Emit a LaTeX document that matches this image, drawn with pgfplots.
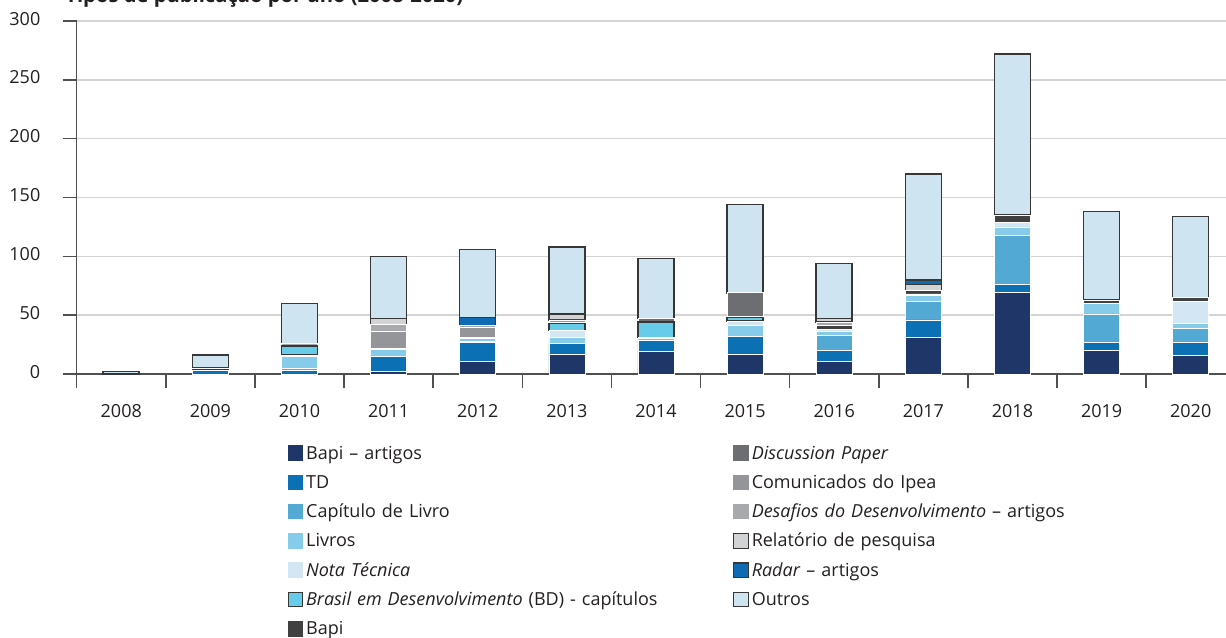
\documentclass[border=0pt]{standalone}
\usepackage{pgfplots}
\pgfplotsset{compat=1.18}
\usepackage{pgfplotstable}
\usepackage{fontspec}
\setmainfont{Open Sans}

\definecolor{cBA}{RGB}{31,54,104}
\definecolor{cTD}{RGB}{11,113,180}
\definecolor{cCAP}{RGB}{82,169,212}
\definecolor{cLIV}{RGB}{134,203,234}
\definecolor{cNOTA}{RGB}{210,231,243}
\definecolor{cBD}{RGB}{102,204,234}
\definecolor{cBAPI}{RGB}{64,64,64}
\definecolor{cDP}{RGB}{109,110,113}
\definecolor{cCOM}{RGB}{147,149,152}
\definecolor{cDES}{RGB}{167,169,172}
\definecolor{cREL}{RGB}{209,211,212}
\definecolor{cRAD}{RGB}{14,106,178}
\definecolor{cOUT}{RGB}{206,228,241}
\definecolor{cEDGE}{RGB}{55,55,55}
\definecolor{cGRID}{RGB}{212,212,212}
\definecolor{cAXIS}{RGB}{80,80,80}
\definecolor{cTXT}{RGB}{35,31,32}

% x: 0=2008 ... 12=2020
\pgfplotstableread{
x ba td cap liv nota bd bapi dp com des rel rad out
0  0  0  0  0  0  0  0  0  0  0 0 0 2
1  0  3  0  0  0  1  1  0  0  0 0 0 11
2  0  3  2  10 1  8  0  0  0  2 0 0 34
3  2  13 0  6  1  0  0  0  14 6 5 0 53
4  11 16 1  2  1  0  0  0  9  1 0 7 58
5  17 9  0  5  6  6  1  0  2  0 5 0 57
6  19 10 0  1  1  13 0  3  0  0 0 0 51
7  17 15 0  9  4  3  1  20 0  0 0 0 75
8  11 9  13 3  2  0  3  0  0  3 3 0 47
9  31 15 16 5  1  0  3  0  0  0 5 4 90
10 69 7  42 7  4  0  6  0  0  0 0 0 137
11 20 7  24 9  0  0  3  0  0  0 0 0 75
12 16 11 12 4  19 0  3  0  0  0 0 0 69
}\data

\pgfplotsset{
  sqf/.style={legend image code/.code={\path[fill=#1, draw=none] (0pt,-3.9pt) rectangle (7.8pt,3.9pt);}},
  sqd/.style={legend image code/.code={\path[fill=#1, draw=cEDGE, line width=0.6pt] (0.3pt,-3.6pt) rectangle (7.5pt,3.6pt);}},
  plain/.style={fill=#1, draw=white, line width=0.35pt},
  edged/.style={fill=#1, draw=cEDGE, line width=0.75pt},
}

\begin{document}
\begin{tikzpicture}[font=\fontsize{9}{10.5}\selectfont, text=cTXT]
\begin{axis}[
  scale only axis, width=579.3pt, height=176.5pt,
  ybar stacked, bar width=18pt,
  xmin=-0.5, xmax=12.5, ymin=0, ymax=300,
  enlargelimits=false, clip=false,
  axis x line=bottom, axis y line=left,
  axis line style={-, draw=cAXIS, line width=0.75pt},
  xtick={0,...,12},
  xticklabels={2008,2009,2010,2011,2012,2013,2014,2015,2016,2017,2018,2019,2020},
  minor xtick={-0.5,0.5,...,12.5},
  ytick={0,50,...,300},
  tick align=outside,
  major tick length=7pt, minor tick length=7pt,
  major x tick style={draw=none},
  minor x tick style={draw=cAXIS, line width=0.75pt},
  major y tick style={draw=cAXIS, line width=0.75pt},
  ymajorgrids, grid style={draw=cGRID, line width=0.75pt},
  /pgf/number format/assume math mode=true,
  xticklabel style={anchor=north, inner sep=0pt, yshift=-7.8pt},
  yticklabel style={anchor=east, inner sep=0pt, xshift=-11pt, yshift=1.2pt},
  legend columns=2, legend cell align=left,
  legend style={at={(0.182,-0.1955)}, anchor=north west, draw=none, fill=none,
    inner sep=0pt, outer sep=0pt, row sep=4.65pt,
    nodes={inner sep=0pt, text height=8pt, text depth=2pt, text width=213.5pt, align=left},
    /tikz/every odd column/.style={column sep=1.5pt},
    /tikz/every even column/.style={column sep=0pt}},
]
\addplot[plain=cBA, forget plot]   table[x=x,y=ba]{\data};
\addplot[plain=cTD, forget plot]   table[x=x,y=td]{\data};
\addplot[plain=cCAP, forget plot]  table[x=x,y=cap]{\data};
\addplot[plain=cLIV, forget plot]  table[x=x,y=liv]{\data};
\addplot[plain=cNOTA, forget plot] table[x=x,y=nota]{\data};
\addplot[edged=cBD, forget plot]   table[x=x,y=bd]{\data};
\addplot[plain=cBAPI, forget plot] table[x=x,y=bapi]{\data};
\addplot[plain=cDP, forget plot]   table[x=x,y=dp]{\data};
\addplot[plain=cCOM, forget plot]  table[x=x,y=com]{\data};
\addplot[plain=cDES, forget plot]  table[x=x,y=des]{\data};
\addplot[edged=cREL, forget plot]  table[x=x,y=rel]{\data};
\addplot[edged=cRAD, forget plot]  table[x=x,y=rad]{\data};
\addplot[edged=cOUT, forget plot]  table[x=x,y=out]{\data};

\addlegendimage{sqf=cBA}
\addlegendentry{Bapi – artigos}
\addlegendimage{sqf=cDP}
\addlegendentry{\textit{Discussion Paper}}
\addlegendimage{sqf=cTD}
\addlegendentry{TD}
\addlegendimage{sqf=cCOM}
\addlegendentry{Comunicados do Ipea}
\addlegendimage{sqf=cCAP}
\addlegendentry{Capítulo de Livro}
\addlegendimage{sqf=cDES}
\addlegendentry{\textit{Desafios do Desenvolvimento} – artigos}
\addlegendimage{sqf=cLIV}
\addlegendentry{Livros}
\addlegendimage{sqd=cREL}
\addlegendentry{Relatório de pesquisa}
\addlegendimage{sqf=cNOTA}
\addlegendentry{\textit{Nota Técnica}}
\addlegendimage{sqd=cRAD}
\addlegendentry{\textit{Radar} – artigos}
\addlegendimage{sqd=cBD}
\addlegendentry{\textit{Brasil em Desenvolvimento} (BD) - capítulos}
\addlegendimage{sqd=cOUT}
\addlegendentry{Outros}
\addlegendimage{sqf=cBAPI}
\addlegendentry{Bapi}

\node[anchor=base west, inner sep=0pt, font=\bfseries\fontsize{10.1}{12}\selectfont]
  at (rel axis cs:-0.0101,1.051) {Tipos de publicação por ano (2008-2020)};
\coordinate (bbSW) at (rel axis cs:-0.0662,-0.7479);
\coordinate (bbNE) at (rel axis cs:0.992,1.0595);
\end{axis}
\pgfresetboundingbox
\path[use as bounding box] (bbSW) rectangle (bbNE);
\end{tikzpicture}
\end{document}
